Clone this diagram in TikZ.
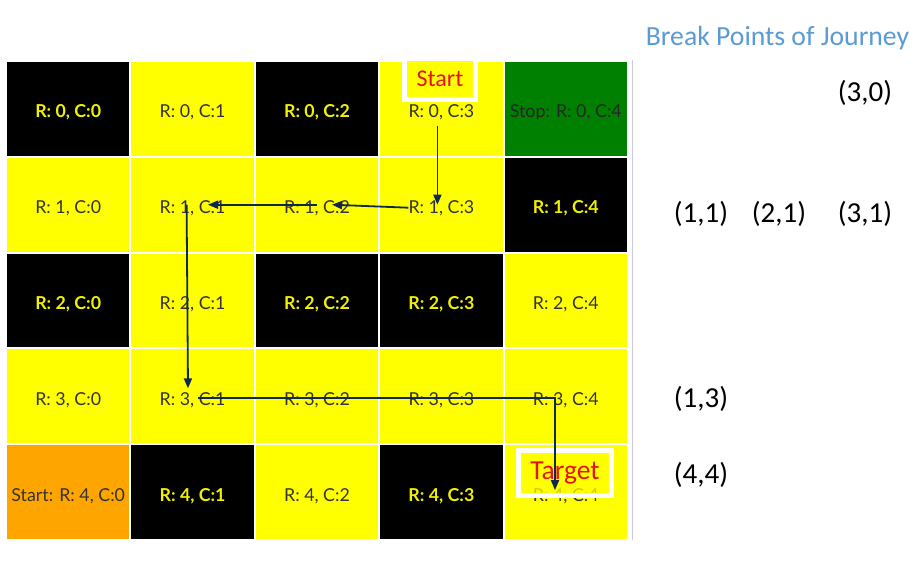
\documentclass[tikz,border=0pt]{standalone}
\usepackage{fontspec}
\setmainfont{Carlito}
\newfontfamily\lato{Lato}
\usetikzlibrary{calc,arrows.meta}
\definecolor{cellyellow}{RGB}{255,255,0}
\definecolor{cellgreen}{RGB}{0,128,0}
\definecolor{cellorange}{RGB}{255,165,0}
\definecolor{txtdark}{RGB}{51,51,51}
\definecolor{txtyellow}{RGB}{240,240,0}
\definecolor{arrowblue}{RGB}{16,40,80}
\definecolor{titleblue}{RGB}{91,155,213}
\definecolor{sepgray}{RGB}{200,200,222}
\definecolor{labelred}{RGB}{228,20,20}
\begin{document}
\begin{tikzpicture}[x=1pt,y=-1pt,
  cell/.style={rectangle, draw=white, line width=2pt, minimum width=124.4pt, minimum height=95.8pt, inner sep=0pt, text height=18pt, text depth=0pt, font=\lato\fontsize{17.8}{20}\selectfont},
  ycell/.style={cell, fill=cellyellow, text=txtdark},
  bcell/.style={cell, fill=black, text=txtyellow, font=\lato\bfseries\fontsize{17.8}{20}\selectfont},
  gcell/.style={cell, fill=cellgreen, text=black!85},
  ocell/.style={cell, fill=cellorange, text=txtdark},
  route/.style={draw=arrowblue, line width=1.8pt},
  routearrow/.style={route, -{Triangle[length=10pt,width=8pt]}},
  labelbox/.style={rectangle, draw=white, line width=5pt, fill=cellyellow, inner sep=0pt},
  labeltext/.style={text=labelred, inner sep=0pt},
  bp/.style={text=black, font=\fontsize{29}{34}\selectfont, inner sep=0pt},
]
\useasboundingbox (0,0) rectangle (918,568);
\fill[white] (0,0) rectangle (918,568);
% row 0
\node[bcell] (c00) at (68.2,108.9) {R: 0, C:0};
\node[ycell] (c01) at (192.6,108.9) {R: 0, C:1};
\node[bcell] (c02) at (317.0,108.9) {R: 0, C:2};
\node[ycell] (c03) at (441.4,108.9) {R: 0, C:3};
\node[gcell] (c04) at (565.8,108.9) {Stop: R: 0, C:4};
% row 1
\node[ycell] (c10) at (68.2,204.7) {R: 1, C:0};
\node[ycell] (c11) at (192.6,204.7) {R: 1, C:1};
\node[ycell] (c12) at (317.0,204.7) {R: 1, C:2};
\node[ycell] (c13) at (441.4,204.7) {R: 1, C:3};
\node[bcell] (c14) at (565.8,204.7) {R: 1, C:4};
% row 2
\node[bcell] (c20) at (68.2,300.5) {R: 2, C:0};
\node[ycell] (c21) at (192.6,300.5) {R: 2, C:1};
\node[bcell] (c22) at (317.0,300.5) {R: 2, C:2};
\node[bcell] (c23) at (441.4,300.5) {R: 2, C:3};
\node[ycell] (c24) at (565.8,300.5) {R: 2, C:4};
% row 3
\node[ycell] (c30) at (68.2,396.3) {R: 3, C:0};
\node[ycell] (c31) at (192.6,396.3) {R: 3, C:1};
\node[ycell] (c32) at (317.0,396.3) {R: 3, C:2};
\node[ycell] (c33) at (441.4,396.3) {R: 3, C:3};
\node[ycell] (c34) at (565.8,396.3) {R: 3, C:4};
% row 4
\node[ocell] (c40) at (68.2,492.1) {Start: R: 4, C:0};
\node[bcell] (c41) at (192.6,492.1) {R: 4, C:1};
\node[ycell] (c42) at (317.0,492.1) {R: 4, C:2};
\node[bcell] (c43) at (441.4,492.1) {R: 4, C:3};
\node[ycell] (c44) at (565.8,492.1) {R: 4, C:4};
% separator
\coordinate (sepTop) at (632,60);
\coordinate (sepBot) at (632,540);
\draw[sepgray, line width=1pt] (sepTop) -- (sepBot);
% label boxes
\node[labelbox, minimum width=71pt, minimum height=41.5pt] (startbox) at (440,78.75) {};
\node[labeltext, font=\fontsize{24}{28}\selectfont] (starttext) at (440,79) {Start};
\node[labelbox, minimum width=93pt, minimum height=45pt, fill opacity=0.75] (targetbox) at (565,473) {};
\node[labeltext, font=\fontsize{27.5}{32}\selectfont] (targettext) at (565,473) {Target};
% route
\coordinate (a1s) at ($(c03)+(-4,17)$);
\coordinate (a1e) at ($(c13)+(-4,0)$);
\coordinate (a2s) at ($(c13)+(-33,3)$);
\coordinate (a2e) at ($(c12)+(15,0)$);
\coordinate (a3s) at (c12);
\coordinate (a3e) at ($(c11)+(15.4,0)$);
\coordinate (a4s) at ($(c11)+(-6,0)$);
\coordinate (a4e) at ($(c31)+(-4.6,-8)$);
\coordinate (a5s) at ($(c31)+(5.4,1.7)$);
\coordinate (a5m) at ($(c34)+(-10.8,1.7)$);
\coordinate (a5e) at ($(c44)+(-10.8,-2)$);
\draw[routearrow] (a1s) -- (a1e);
\draw[routearrow] (a2s) -- (a2e);
\draw[routearrow] (a3s) -- (a3e);
\draw[routearrow] (a4s) -- (a4e);
\draw[routearrow] (a5s) -- (a5m) -- (a5e);
% right side
\node[text=titleblue, font=\fontsize{27.7}{32}\selectfont, anchor=base, inner sep=0pt] (title) at (777.5,45) {Break Points of Journey};
\node[bp] (p30) at (865,93) {(3,0)};
\node[bp] (p11) at (701,214) {(1,1)};
\node[bp] (p21) at (779,214) {(2,1)};
\node[bp] (p31) at (865,214) {(3,1)};
\node[bp] (p13) at (701,399) {(1,3)};
\node[bp] (p44) at (701,475) {(4,4)};
\end{tikzpicture}
\end{document}
